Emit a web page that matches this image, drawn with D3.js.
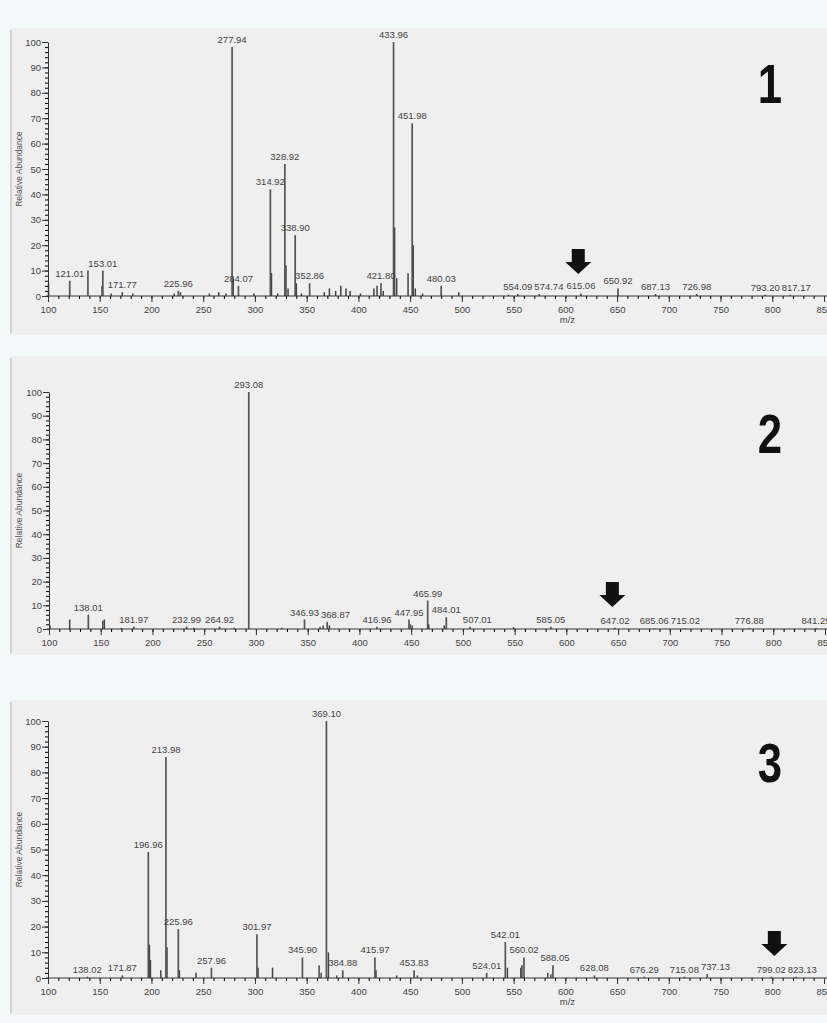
<!DOCTYPE html>
<html>
<head>
<meta charset="utf-8">
<script src="https://cdn.jsdelivr.net/npm/d3@7"></script>
<style>
  body { margin: 0; background: #f4f8f8; }
  svg { display: block; font-family: "Liberation Sans", Arial, sans-serif; }
</style>
</head>
<body>
<svg id="chart" width="827" height="1023"></svg>
<script>
// axis ticks
const xTicks = [100, 150, 200, 250, 300, 350, 400, 450, 500, 550, 600, 650, 700, 750, 800, 850];
const yTicks = [0, 10, 20, 30, 40, 50, 60, 70, 80, 90, 100];

// spectrum 1 - labelled peaks
const s1LabelMz  = [121.01, 153.01, 171.77, 225.96, 277.94, 284.07, 314.92, 328.92, 338.90, 352.86, 421.80, 433.96, 451.98, 480.03, 554.09, 574.74, 615.06, 650.92, 687.13, 726.98, 793.20, 817.17];
const s1LabelInt = [6, 10, 1.5, 2, 98, 4, 42, 52, 24, 5, 5, 100, 68, 4, 0.8, 0.8, 1, 3, 0.8, 0.8, 0.5, 0.5];
// spectrum 1 - unlabelled peaks
const s1OtherMz  = [100.5, 138.6, 152.2, 161, 182, 222, 228, 256, 265, 272, 279, 299, 316, 322, 330, 332, 340, 345, 367, 372, 378, 383, 388, 392, 402, 415, 418, 424, 435, 437, 448, 453, 455, 462, 497, 545];
const s1OtherInt = [5, 10, 4, 1, 1, 1, 1.5, 1, 1.5, 1, 7, 1, 9, 1, 12, 3, 5, 1, 1.5, 3, 2, 4, 3, 2, 1, 3, 4, 2, 27, 7, 9, 20, 3, 1, 1.5, 0.5];

// spectrum 2
const s2LabelMz  = [138.01, 181.97, 232.99, 264.92, 293.08, 346.93, 368.87, 416.96, 447.95, 465.99, 484.01, 507.01, 585.05, 647.02, 685.06, 715.02, 776.88, 841.29];
const s2LabelInt = [6, 1, 1, 1, 100, 4, 3, 1, 4, 12, 5, 1, 1, 0.5, 0.3, 0.3, 0.3, 0.3];
const s2OtherMz  = [101, 120, 152, 153.5, 170, 240, 279, 325, 362, 365, 371, 449, 451, 467, 482, 549];
const s2OtherInt = [1.5, 4, 3.5, 4, 0.5, 0.5, 0.5, 0.5, 1, 1.5, 1.5, 2, 1.5, 2, 1.5, 0.8];

// spectrum 3
const s3LabelMz  = [138.02, 171.87, 196.96, 213.98, 225.96, 257.96, 301.97, 345.90, 369.10, 384.88, 415.97, 453.83, 524.01, 542.01, 560.02, 588.05, 628.08, 676.29, 715.08, 737.13, 799.02, 823.13];
const s3LabelInt = [0.5, 1, 49, 86, 19, 4, 17, 8, 100, 3, 8, 3, 2, 14, 8, 5, 1, 0.5, 0.5, 1.5, 0.5, 0.5];
const s3OtherMz  = [198, 199, 209, 215, 227, 243, 303, 317, 362, 364, 371, 379, 417, 437, 457, 544, 557, 558, 583, 586];
const s3OtherInt = [13, 7, 3, 12, 3, 2, 4, 4, 5, 2, 10, 1, 3, 1, 1, 4, 4, 5, 2, 1.5];

// arrows mark the ion of interest
const arrowMz = [612.5, 644.5, 802];
const panelNames = ["1", "2", "3"];

const panels = [
  { name: panelNames[0], labelMz: s1LabelMz, labelInt: s1LabelInt, otherMz: s1OtherMz, otherInt: s1OtherInt, arrow: arrowMz[0],
    top: 42, bottom: 296, left: 48, bgTop: 28, bgBottom: 335, mz: true },
  { name: panelNames[1], labelMz: s2LabelMz, labelInt: s2LabelInt, otherMz: s2OtherMz, otherInt: s2OtherInt, arrow: arrowMz[1],
    top: 392, bottom: 629, left: 49, bgTop: 356, bgBottom: 655, mz: false },
  { name: panelNames[2], labelMz: s3LabelMz, labelInt: s3LabelInt, otherMz: s3OtherMz, otherInt: s3OtherInt, arrow: arrowMz[2],
    top: 721, bottom: 978, left: 48, bgTop: 700, bgBottom: 1015, mz: true }
];

const svg = d3.select("#chart");
svg.append("rect").attr("width", 827).attr("height", 1023).attr("fill", "#f4f8f8");

function drawPanel(p) {
  let x = d3.scaleLinear().domain([100, 850]).range([p.left, p.left + 776]);
  let y = d3.scaleLinear().domain([0, 100]).range([p.bottom, p.top]);
  let g = svg.append("g");

  // panel background + left frame line
  g.append("rect").attr("x", 10).attr("y", p.bgTop).attr("width", 817)
    .attr("height", p.bgBottom - p.bgTop).attr("fill", "#efefef");
  g.append("line").attr("x1", 11).attr("x2", 11).attr("y1", p.bgTop + 2).attr("y2", p.bgBottom - 2)
    .attr("stroke", "#bdbdbd").attr("stroke-width", 1.2);

  // small peaks
  g.selectAll("line.other").data(d3.zip(p.otherMz, p.otherInt)).enter().append("line")
    .attr("class", "other")
    .attr("x1", d => x(d[0])).attr("x2", d => x(d[0]))
    .attr("y1", y(0)).attr("y2", d => y(d[1]))
    .attr("stroke", "#444").attr("stroke-width", 1.5);

  // labelled peaks
  let peaks = d3.zip(p.labelMz, p.labelInt);
  g.selectAll("line.peak").data(peaks).enter().append("line")
    .attr("class", "peak")
    .attr("x1", d => x(d[0])).attr("x2", d => x(d[0]))
    .attr("y1", y(0)).attr("y2", d => y(d[1]))
    .attr("stroke", "#555").attr("stroke-width", 1.7);

  // x axis: major and minor ticks
  let xMinor = d3.range(100, 851, 10);
  g.append("g").attr("transform", "translate(0," + y(0) + ")")
    .call(d3.axisBottom(x).tickValues(xMinor).tickSize(3).tickSizeOuter(0).tickFormat(""))
    .call(a => a.select(".domain").attr("stroke", "#333").attr("d", "M" + (p.left - 2) + ",0H827"));
  let xa = g.append("g").attr("transform", "translate(0," + y(0) + ")")
    .call(d3.axisBottom(x).tickValues(xTicks).tickSize(6).tickSizeOuter(0).tickPadding(4).tickFormat(d3.format("d")));
  xa.select(".domain").remove();
  xa.selectAll("line").attr("stroke", "#333");
  xa.selectAll("text").attr("font-size", 9.5).attr("fill", "#444").attr("font-family", "Liberation Sans");

  // y axis
  let yMinor = d3.range(0, 101, 2);
  g.append("g").attr("transform", "translate(" + p.left + ",0)")
    .call(d3.axisLeft(y).tickValues(yMinor).tickSize(3).tickSizeOuter(0).tickFormat(""))
    .call(a => a.select(".domain").attr("stroke", "#333"));
  let ya = g.append("g").attr("transform", "translate(" + p.left + ",0)")
    .call(d3.axisLeft(y).tickValues(yTicks).tickSize(6).tickSizeOuter(0).tickPadding(1));
  ya.select(".domain").remove();
  ya.selectAll("line").attr("stroke", "#333");
  ya.selectAll("text").attr("font-size", 9.5).attr("fill", "#444").attr("font-family", "Liberation Sans");

  g.append("text").attr("transform", "translate(22," + (p.top + p.bottom) / 2 + ") rotate(-90)")
    .attr("text-anchor", "middle").attr("font-size", 8.5).attr("fill", "#555")
    .text("Relative Abundance");

  if (p.mz) {
    g.append("text").attr("x", x(602)).attr("y", y(0) + 27).attr("text-anchor", "middle")
      .attr("font-size", 9.5).attr("fill", "#444").text("m/z");
  }

  // peak labels, pushed right when they collide
  let labels = g.selectAll("text.lbl").data(peaks).enter().append("text")
    .attr("class", "lbl")
    .attr("text-anchor", "middle").attr("font-size", 9.5).attr("fill", "#444")
    .attr("x", d => x(d[0])).attr("y", d => y(d[1]) - 4)
    .text(d => d[0].toFixed(2));
  let boxes = [];
  labels.each(function(d) {
    let w = this.getComputedTextLength();
    let cx = x(d[0]);
    let yy = y(d[1]) - 4;
    boxes.forEach(b => {
      if (Math.abs(b.y - yy) < 10 && cx - w / 2 < b.r + 2 && cx + w / 2 > b.l - 2) {
        cx = b.r + 2 + w / 2;
      }
    });
    boxes.push({ l: cx - w / 2, r: cx + w / 2, y: yy });
    d3.select(this).attr("x", cx);
  });

  // arrow
  let ax = x(p.arrow);
  let labelTop = y(0) - 22;
  let arrow = [[ax - 6.5, labelTop - 25], [ax + 6.5, labelTop - 25], [ax + 6.5, labelTop - 12],
               [ax + 13, labelTop - 12], [ax, labelTop], [ax - 13, labelTop - 12], [ax - 6.5, labelTop - 12]];
  g.append("path").attr("d", d3.line()(arrow) + "Z").attr("fill", "#111");

  // panel number (condensed look)
  g.append("text").attr("transform", "translate(770," + (p.top + 61) + ") scale(0.78,1)")
    .attr("text-anchor", "middle").attr("font-weight", "bold")
    .attr("font-size", 56).attr("fill", "#111").text(p.name);
}

panels.forEach(drawPanel);
</script>
</body>
</html>
